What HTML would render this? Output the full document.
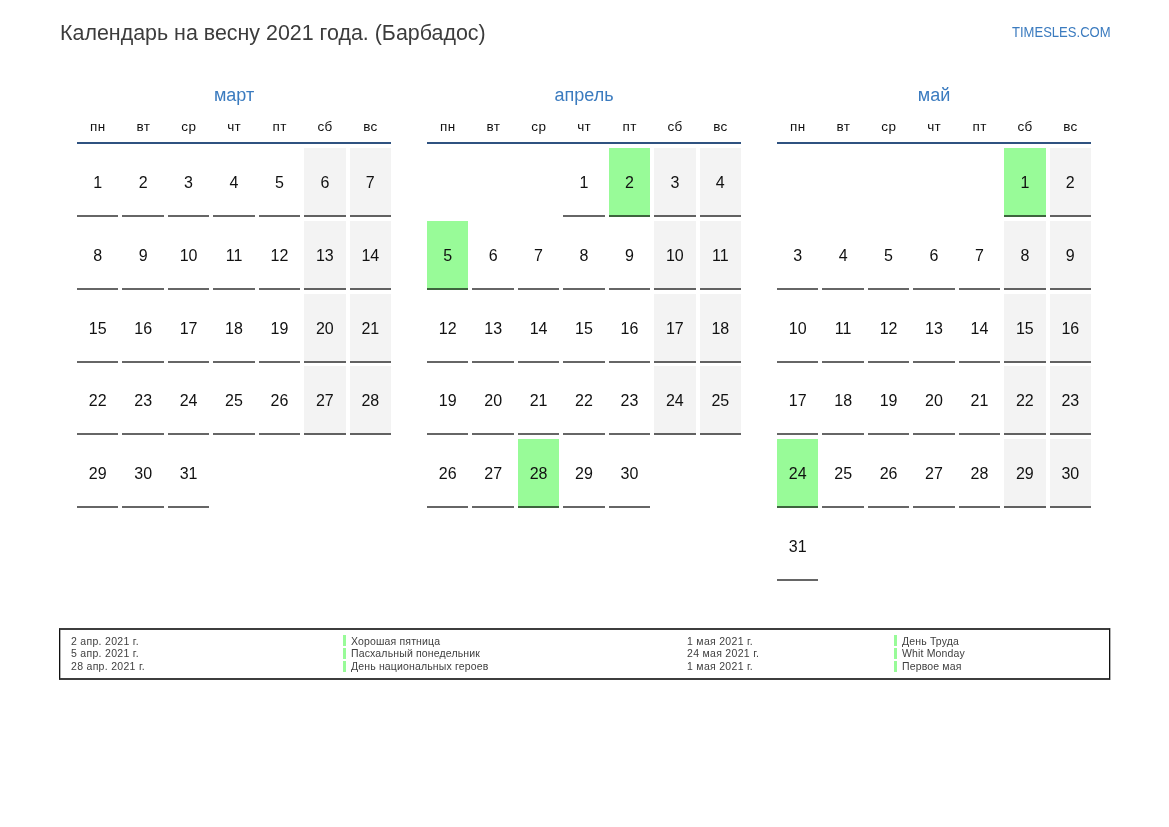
<!DOCTYPE html>
<html><head><meta charset="utf-8"><style>
html,body{margin:0;padding:0;background:#fff;}
body{width:1169px;height:827px;position:relative;overflow:hidden;will-change:transform;font-family:"Liberation Sans",sans-serif;}
.a{position:absolute;white-space:nowrap;}
.title{left:59.5px;top:20.5px;font-size:22.5px;line-height:24px;color:#3c3c3c;transform:scaleX(0.952);transform-origin:0 0;}
.logo{right:58px;top:24px;font-size:14.5px;line-height:16px;color:#3b7bbf;transform:scaleX(0.9);transform-origin:100% 0;}
.mn{font-size:18px;line-height:20px;color:#3b7bbf;text-align:center;width:314px;}
.dn{font-size:13.5px;line-height:14px;color:#111;letter-spacing:0.4px;text-indent:0.4px;text-align:center;width:41.43px;}
.hl{height:2px;width:314px;background:#2f5280;}
.c{width:41.43px;height:67px;border-bottom:2px solid rgba(0,0,0,0.6);font-size:16px;line-height:69px;text-align:center;color:#111;}
.w{background:#f3f3f3;}
.h{background:#98fb98;}
.box{left:59px;top:628px;width:1051px;height:52px;box-sizing:border-box;border-top:2px solid #3d3d3d;border-bottom:2px solid #3d3d3d;border-left:1px solid #111;border-right:1px solid #111;box-shadow:inset 1px 0 0 #b0b0b0, 1px 0 0 #b0b0b0;}
.lg{font-size:10.5px;line-height:12.5px;color:#404040;letter-spacing:0.3px;}
.ln{letter-spacing:0.15px;}
.bar{width:3px;height:11px;background:#98fb98;}
</style></head><body>
<div class="a title">Календарь на весну 2021 года. (Барбадос)</div>
<div class="a logo">TIMESLES.COM</div>
<div class="a mn" style="left:77px;top:85px">март</div>
<div class="a dn" style="left:77.00px;top:120px">пн</div>
<div class="a dn" style="left:122.43px;top:120px">вт</div>
<div class="a dn" style="left:167.86px;top:120px">ср</div>
<div class="a dn" style="left:213.29px;top:120px">чт</div>
<div class="a dn" style="left:258.72px;top:120px">пт</div>
<div class="a dn" style="left:304.15px;top:120px">сб</div>
<div class="a dn" style="left:349.58px;top:120px">вс</div>
<div class="a hl" style="left:77px;top:142px"></div>
<div class="a c" style="left:77.00px;top:148.0px">1</div>
<div class="a c" style="left:122.43px;top:148.0px">2</div>
<div class="a c" style="left:167.86px;top:148.0px">3</div>
<div class="a c" style="left:213.29px;top:148.0px">4</div>
<div class="a c" style="left:258.72px;top:148.0px">5</div>
<div class="a c w" style="left:304.15px;top:148.0px">6</div>
<div class="a c w" style="left:349.58px;top:148.0px">7</div>
<div class="a c" style="left:77.00px;top:220.8px">8</div>
<div class="a c" style="left:122.43px;top:220.8px">9</div>
<div class="a c" style="left:167.86px;top:220.8px">10</div>
<div class="a c" style="left:213.29px;top:220.8px">11</div>
<div class="a c" style="left:258.72px;top:220.8px">12</div>
<div class="a c w" style="left:304.15px;top:220.8px">13</div>
<div class="a c w" style="left:349.58px;top:220.8px">14</div>
<div class="a c" style="left:77.00px;top:293.6px">15</div>
<div class="a c" style="left:122.43px;top:293.6px">16</div>
<div class="a c" style="left:167.86px;top:293.6px">17</div>
<div class="a c" style="left:213.29px;top:293.6px">18</div>
<div class="a c" style="left:258.72px;top:293.6px">19</div>
<div class="a c w" style="left:304.15px;top:293.6px">20</div>
<div class="a c w" style="left:349.58px;top:293.6px">21</div>
<div class="a c" style="left:77.00px;top:366.4px">22</div>
<div class="a c" style="left:122.43px;top:366.4px">23</div>
<div class="a c" style="left:167.86px;top:366.4px">24</div>
<div class="a c" style="left:213.29px;top:366.4px">25</div>
<div class="a c" style="left:258.72px;top:366.4px">26</div>
<div class="a c w" style="left:304.15px;top:366.4px">27</div>
<div class="a c w" style="left:349.58px;top:366.4px">28</div>
<div class="a c" style="left:77.00px;top:439.2px">29</div>
<div class="a c" style="left:122.43px;top:439.2px">30</div>
<div class="a c" style="left:167.86px;top:439.2px">31</div>
<div class="a mn" style="left:427px;top:85px">апрель</div>
<div class="a dn" style="left:427.00px;top:120px">пн</div>
<div class="a dn" style="left:472.43px;top:120px">вт</div>
<div class="a dn" style="left:517.86px;top:120px">ср</div>
<div class="a dn" style="left:563.29px;top:120px">чт</div>
<div class="a dn" style="left:608.72px;top:120px">пт</div>
<div class="a dn" style="left:654.15px;top:120px">сб</div>
<div class="a dn" style="left:699.58px;top:120px">вс</div>
<div class="a hl" style="left:427px;top:142px"></div>
<div class="a c" style="left:563.29px;top:148.0px">1</div>
<div class="a c h" style="left:608.72px;top:148.0px">2</div>
<div class="a c w" style="left:654.15px;top:148.0px">3</div>
<div class="a c w" style="left:699.58px;top:148.0px">4</div>
<div class="a c h" style="left:427.00px;top:220.8px">5</div>
<div class="a c" style="left:472.43px;top:220.8px">6</div>
<div class="a c" style="left:517.86px;top:220.8px">7</div>
<div class="a c" style="left:563.29px;top:220.8px">8</div>
<div class="a c" style="left:608.72px;top:220.8px">9</div>
<div class="a c w" style="left:654.15px;top:220.8px">10</div>
<div class="a c w" style="left:699.58px;top:220.8px">11</div>
<div class="a c" style="left:427.00px;top:293.6px">12</div>
<div class="a c" style="left:472.43px;top:293.6px">13</div>
<div class="a c" style="left:517.86px;top:293.6px">14</div>
<div class="a c" style="left:563.29px;top:293.6px">15</div>
<div class="a c" style="left:608.72px;top:293.6px">16</div>
<div class="a c w" style="left:654.15px;top:293.6px">17</div>
<div class="a c w" style="left:699.58px;top:293.6px">18</div>
<div class="a c" style="left:427.00px;top:366.4px">19</div>
<div class="a c" style="left:472.43px;top:366.4px">20</div>
<div class="a c" style="left:517.86px;top:366.4px">21</div>
<div class="a c" style="left:563.29px;top:366.4px">22</div>
<div class="a c" style="left:608.72px;top:366.4px">23</div>
<div class="a c w" style="left:654.15px;top:366.4px">24</div>
<div class="a c w" style="left:699.58px;top:366.4px">25</div>
<div class="a c" style="left:427.00px;top:439.2px">26</div>
<div class="a c" style="left:472.43px;top:439.2px">27</div>
<div class="a c h" style="left:517.86px;top:439.2px">28</div>
<div class="a c" style="left:563.29px;top:439.2px">29</div>
<div class="a c" style="left:608.72px;top:439.2px">30</div>
<div class="a mn" style="left:777px;top:85px">май</div>
<div class="a dn" style="left:777.00px;top:120px">пн</div>
<div class="a dn" style="left:822.43px;top:120px">вт</div>
<div class="a dn" style="left:867.86px;top:120px">ср</div>
<div class="a dn" style="left:913.29px;top:120px">чт</div>
<div class="a dn" style="left:958.72px;top:120px">пт</div>
<div class="a dn" style="left:1004.15px;top:120px">сб</div>
<div class="a dn" style="left:1049.58px;top:120px">вс</div>
<div class="a hl" style="left:777px;top:142px"></div>
<div class="a c h" style="left:1004.15px;top:148.0px">1</div>
<div class="a c w" style="left:1049.58px;top:148.0px">2</div>
<div class="a c" style="left:777.00px;top:220.8px">3</div>
<div class="a c" style="left:822.43px;top:220.8px">4</div>
<div class="a c" style="left:867.86px;top:220.8px">5</div>
<div class="a c" style="left:913.29px;top:220.8px">6</div>
<div class="a c" style="left:958.72px;top:220.8px">7</div>
<div class="a c w" style="left:1004.15px;top:220.8px">8</div>
<div class="a c w" style="left:1049.58px;top:220.8px">9</div>
<div class="a c" style="left:777.00px;top:293.6px">10</div>
<div class="a c" style="left:822.43px;top:293.6px">11</div>
<div class="a c" style="left:867.86px;top:293.6px">12</div>
<div class="a c" style="left:913.29px;top:293.6px">13</div>
<div class="a c" style="left:958.72px;top:293.6px">14</div>
<div class="a c w" style="left:1004.15px;top:293.6px">15</div>
<div class="a c w" style="left:1049.58px;top:293.6px">16</div>
<div class="a c" style="left:777.00px;top:366.4px">17</div>
<div class="a c" style="left:822.43px;top:366.4px">18</div>
<div class="a c" style="left:867.86px;top:366.4px">19</div>
<div class="a c" style="left:913.29px;top:366.4px">20</div>
<div class="a c" style="left:958.72px;top:366.4px">21</div>
<div class="a c w" style="left:1004.15px;top:366.4px">22</div>
<div class="a c w" style="left:1049.58px;top:366.4px">23</div>
<div class="a c h" style="left:777.00px;top:439.2px">24</div>
<div class="a c" style="left:822.43px;top:439.2px">25</div>
<div class="a c" style="left:867.86px;top:439.2px">26</div>
<div class="a c" style="left:913.29px;top:439.2px">27</div>
<div class="a c" style="left:958.72px;top:439.2px">28</div>
<div class="a c w" style="left:1004.15px;top:439.2px">29</div>
<div class="a c w" style="left:1049.58px;top:439.2px">30</div>
<div class="a c" style="left:777.00px;top:512.0px">31</div>
<div class="a box"></div>
<div class="a lg" style="left:71px;top:635px">2 апр. 2021 г.</div>
<div class="a bar" style="left:343px;top:635px"></div>
<div class="a lg ln" style="left:351px;top:635px">Хорошая пятница</div>
<div class="a lg" style="left:71px;top:647px">5 апр. 2021 г.</div>
<div class="a bar" style="left:343px;top:648px"></div>
<div class="a lg ln" style="left:351px;top:647px">Пасхальный понедельник</div>
<div class="a lg" style="left:71px;top:660px">28 апр. 2021 г.</div>
<div class="a bar" style="left:343px;top:661px"></div>
<div class="a lg ln" style="left:351px;top:660px">День национальных героев</div>
<div class="a lg" style="left:687px;top:635px">1 мая 2021 г.</div>
<div class="a bar" style="left:894px;top:635px"></div>
<div class="a lg ln" style="left:902px;top:635px">День Труда</div>
<div class="a lg" style="left:687px;top:647px">24 мая 2021 г.</div>
<div class="a bar" style="left:894px;top:648px"></div>
<div class="a lg ln" style="left:902px;top:647px">Whit Monday</div>
<div class="a lg" style="left:687px;top:660px">1 мая 2021 г.</div>
<div class="a bar" style="left:894px;top:661px"></div>
<div class="a lg ln" style="left:902px;top:660px">Первое мая</div>
</body></html>
